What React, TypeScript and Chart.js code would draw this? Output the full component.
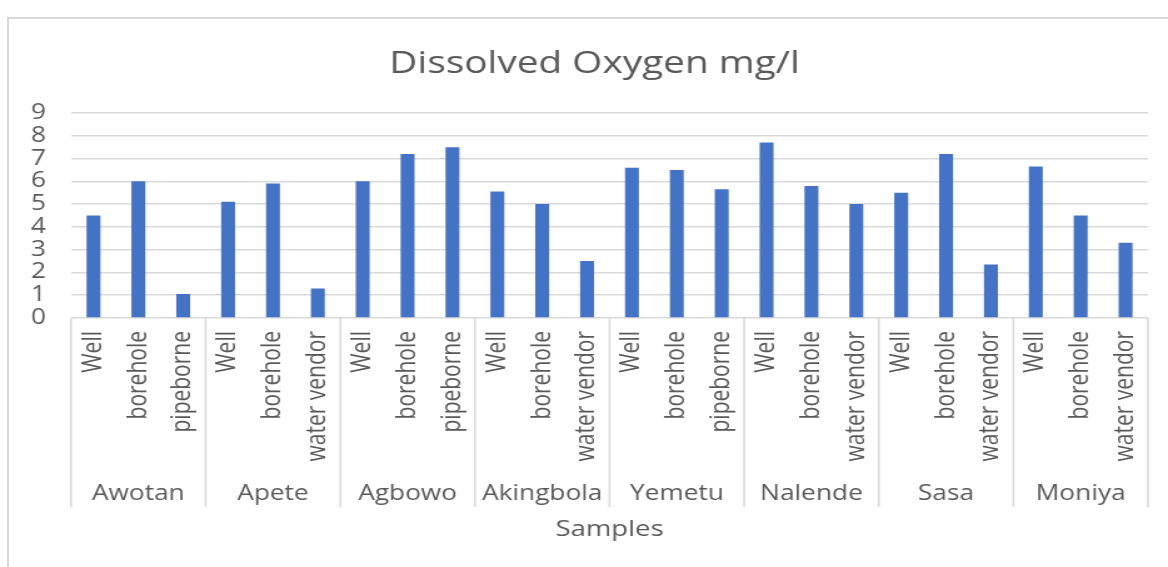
import React, { useEffect, useRef } from 'react';
import { Chart, registerables } from 'chart.js';

Chart.register(...registerables);

// ---- Data ----
const groups = ['Awotan', 'Apete', 'Agbowo', 'Akingbola', 'Yemetu', 'Nalende', 'Sasa', 'Moniya'];
const sources = [
  ['Well', 'borehole', 'pipeborne'],
  ['Well', 'borehole', 'water vendor'],
  ['Well', 'borehole', 'pipeborne'],
  ['Well', 'borehole', 'water vendor'],
  ['Well', 'borehole', 'pipeborne'],
  ['Well', 'borehole', 'water vendor'],
  ['Well', 'borehole', 'water vendor'],
  ['Well', 'borehole', 'water vendor'],
];
const dissolvedOxygen = [
  4.5, 6.0, 1.05,
  5.1, 5.9, 1.3,
  6.0, 7.2, 7.5,
  5.55, 5.0, 2.5,
  6.6, 6.5, 5.65,
  7.7, 5.8, 5.0,
  5.5, 7.2, 2.35,
  6.65, 4.5, 3.3,
];
const yMin = 0;
const yMax = 9;
const yStep = 1;
const chartTitle = 'Dissolved Oxygen mg/l';
const xTitle = 'Samples';

// ---- Styling / layout ----
const PAGE_W = 1168;
const PAGE_H = 567;
const S = 1.25; // horizontal stretch of the picture
const CANVAS_W = Math.round(PAGE_W / S);
const TEXT = '#595959';
const GRID = '#d9d9d9';
const BAR = '#4472C4';
const FONT = "'Open Sans', 'Noto Sans', sans-serif";

const groupPlugin = {
  id: 'groupLabels',
  afterDraw(chart: any) {
    const { ctx, chartArea } = chart;
    const x = chart.scales.x;
    const top = chartArea.bottom;
    const bottom = top + 189;
    ctx.save();
    ctx.strokeStyle = GRID;
    ctx.lineWidth = 1.6;
    const n = groups.length;
    for (let g = 0; g <= n; g++) {
      let px: number;
      if (g === 0) px = chartArea.left;
      else if (g === n) px = chartArea.right;
      else px = (x.getPixelForValue(3 * g - 1) + x.getPixelForValue(3 * g)) / 2;
      ctx.beginPath();
      ctx.moveTo(px, top);
      ctx.lineTo(px, bottom);
      ctx.stroke();
    }
    ctx.fillStyle = TEXT;
    ctx.font = `21px ${FONT}`;
    ctx.textAlign = 'center';
    ctx.textBaseline = 'middle';
    for (let g = 0; g < n; g++) {
      const cx = (x.getPixelForValue(3 * g) + x.getPixelForValue(3 * g + 2)) / 2;
      ctx.fillText(groups[g], cx, top + 176);
    }
    ctx.restore();
  },
};

export default function App() {
  const ref = useRef<HTMLCanvasElement>(null);

  useEffect(() => {
    if (!ref.current) return;
    const labels = sources.flat();
    const chart = new Chart(ref.current, {
      type: 'bar',
      data: {
        labels,
        datasets: [
          {
            label: chartTitle,
            data: dissolvedOxygen,
            backgroundColor: BAR,
            barPercentage: 0.31,
            categoryPercentage: 1,
            yAxisID: 'y',
          },
        ],
      },
      options: {
        responsive: false,
        maintainAspectRatio: false,
        animation: false,
        // the chart frame runs past the right edge of the picture: title is centred on it
        layout: { padding: { left: 0, right: -21 / S, top: 0, bottom: 0 } },
        plugins: {
          legend: { display: false },
          tooltip: { enabled: false },
          title: {
            display: true,
            text: chartTitle,
            color: TEXT,
            font: { family: FONT, size: 31, weight: 'normal' },
            padding: { top: 45.4, bottom: 30.4 },
          },
        },
        scales: {
          x: {
            type: 'category',
            grid: { display: false },
            border: { display: false },
            ticks: {
              autoSkip: false,
              maxRotation: 90,
              minRotation: 90,
              padding: 5,
              color: TEXT,
              font: { family: FONT, size: 21 },
            },
            title: {
              display: true,
              text: xTitle,
              color: TEXT,
              font: { family: FONT, size: 22 },
              padding: { top: 0, bottom: 24 },
            },
            afterFit: (s: any) => {
              s.height = 249;
            },
          },
          y: {
            min: yMin,
            max: yMax,
            ticks: {
              stepSize: yStep,
              autoSkip: false,
              padding: 25 / S,
              color: TEXT,
              font: { family: FONT, size: 21 },
            },
            grid: { color: GRID, lineWidth: 1.5, drawTicks: false },
            border: { display: false },
            afterFit: (s: any) => {
              s.width = 71 / S;
            },
          },
          spacer: {
            type: 'linear',
            position: 'right',
            display: true,
            ticks: { display: false },
            grid: { display: false, drawTicks: false },
            border: { display: false },
            afterFit: (s: any) => {
              s.width = 41 / S;
            },
          },
        },
      },
      plugins: [groupPlugin],
    } as any);
    return () => chart.destroy();
  }, []);

  return (
    <div style={{ position: 'absolute', left: 0, top: 0, width: PAGE_W, height: PAGE_H, background: '#fff', overflow: 'hidden' }}>
      <canvas
        ref={ref}
        width={CANVAS_W}
        height={PAGE_H}
        style={{ position: 'absolute', left: 0, top: 0, width: PAGE_W + 'px', height: PAGE_H + 'px', display: 'block' }}
      />
      <div
        style={{
          position: 'absolute',
          left: 7,
          top: 17,
          width: PAGE_W,
          height: PAGE_H,
          borderTop: `2px solid ${GRID}`,
          borderLeft: `2px solid ${GRID}`,
          pointerEvents: 'none',
        }}
      />
    </div>
  );
}
